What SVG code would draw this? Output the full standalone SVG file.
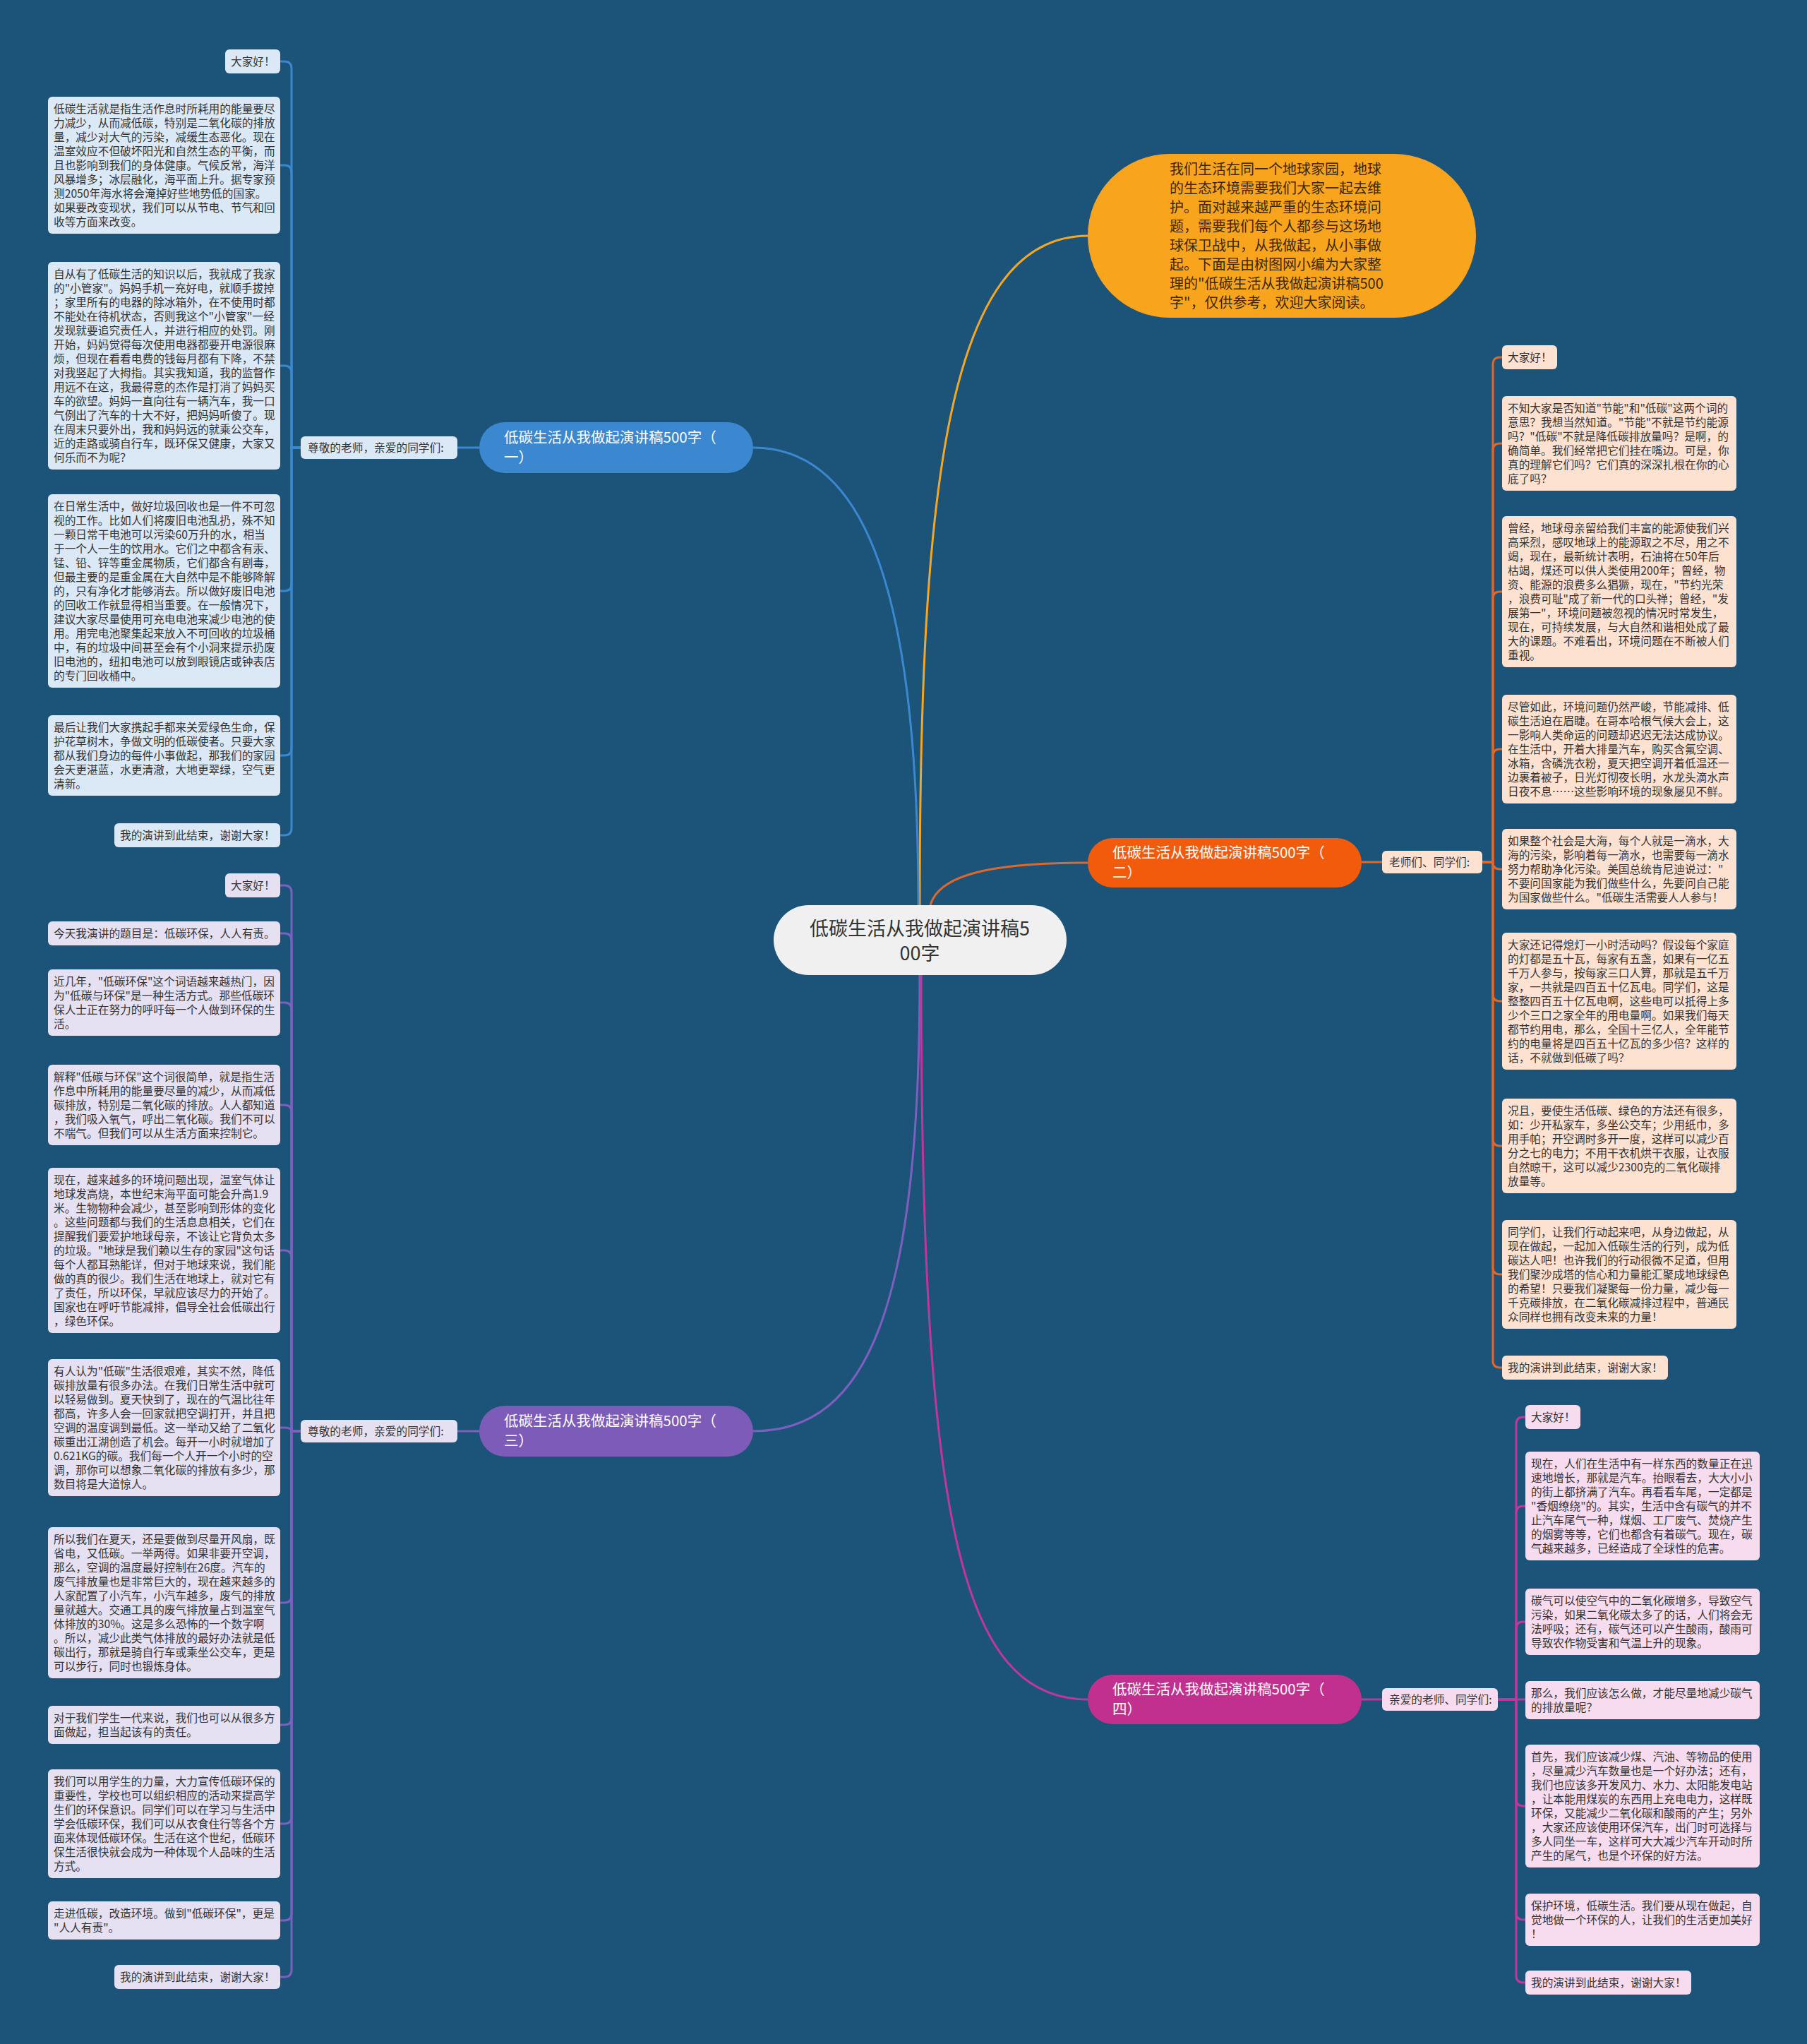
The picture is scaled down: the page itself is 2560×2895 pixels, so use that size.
<svg xmlns="http://www.w3.org/2000/svg" width="2560" height="2895" viewBox="0 0 2560 2895">
<style>
.t{font-family:"Noto Sans CJK SC","Liberation Sans",sans-serif;font-size:15.7px;fill:#333}
.bt{font-family:"Noto Sans CJK SC","Liberation Sans",sans-serif;font-size:20.5px;fill:#fff}
.lb{fill:#dbe8f5}.lo{fill:#fde2d2}.lp{fill:#e5e0f2}.lm{fill:#f6dcee}
.cb{fill:none;stroke:#3b87d0;stroke-width:3}
.co{fill:none;stroke:#e0672a;stroke-width:3}
.cp{fill:none;stroke:#7e5fbf;stroke-width:3}
.cm{fill:none;stroke:#c0369a;stroke-width:3}
.cy{fill:none;stroke:#f5a623;stroke-width:3}
</style>
<rect width="2560" height="2895" fill="#1c5479"/>
<g id="connectors">
<path class="cy" d="M1303 1282 C1303 700 1340 334 1541 334"/>
<path class="cb" d="M1301 1282 C1301 850 1230 634 1067 634"/>
<path class="co" d="M1318 1282 C1330 1240 1400 1222 1541 1222"/>
<path class="cp" d="M1303 1381 C1303 1850 1230 2027 1067 2027"/>
<path class="cm" d="M1305 1381 C1305 2150 1360 2407 1541 2407"/>
<path class="cb" d="M679 634 H648"/>
<path class="co" d="M1929 1221 H1958"/>
<path class="cp" d="M679 2027 H648"/>
<path class="cm" d="M1929 2407 H1958"/>
<path class="cb" d="M426 634H413V97Q413 87 403 87H397"/>
<path class="cb" d="M426 634H413V244Q413 234 403 234H397"/>
<path class="cb" d="M426 634H413V528Q413 518 403 518H397"/>
<path class="cb" d="M426 634H413V827Q413 837 403 837H397"/>
<path class="cb" d="M426 634H413V1060Q413 1070 403 1070H397"/>
<path class="cb" d="M426 634H413V1173Q413 1183 403 1183H397"/>
<path class="cp" d="M426 2027H413V1264Q413 1254 403 1254H397"/>
<path class="cp" d="M426 2027H413V1332Q413 1322 403 1322H397"/>
<path class="cp" d="M426 2027H413V1430Q413 1420 403 1420H397"/>
<path class="cp" d="M426 2027H413V1575Q413 1565 403 1565H397"/>
<path class="cp" d="M426 2027H413V1781Q413 1771 403 1771H397"/>
<path class="cp" d="M426 2027H413Q413 2022 403 2022H397"/>
<path class="cp" d="M426 2027H413V2260Q413 2270 403 2270H397"/>
<path class="cp" d="M426 2027H413V2433Q413 2443 403 2443H397"/>
<path class="cp" d="M426 2027H413V2573Q413 2583 403 2583H397"/>
<path class="cp" d="M426 2027H413V2710Q413 2720 403 2720H397"/>
<path class="cp" d="M426 2027H413V2790Q413 2800 403 2800H397"/>
<path class="co" d="M2100 1221H2115V516Q2115 506 2125 506H2128"/>
<path class="co" d="M2100 1221H2115V638Q2115 628 2125 628H2128"/>
<path class="co" d="M2100 1221H2115V848Q2115 838 2125 838H2128"/>
<path class="co" d="M2100 1221H2115V1071Q2115 1061 2125 1061H2128"/>
<path class="co" d="M2100 1221H2115V1221Q2115 1231 2125 1231H2128"/>
<path class="co" d="M2100 1221H2115V1408Q2115 1418 2125 1418H2128"/>
<path class="co" d="M2100 1221H2115V1613Q2115 1623 2125 1623H2128"/>
<path class="co" d="M2100 1221H2115V1795Q2115 1805 2125 1805H2128"/>
<path class="co" d="M2100 1221H2115V1927Q2115 1937 2125 1937H2128"/>
<path class="cm" d="M2122 2407H2148V2017Q2148 2007 2158 2007H2161"/>
<path class="cm" d="M2122 2407H2148V2143Q2148 2133 2158 2133H2161"/>
<path class="cm" d="M2122 2407H2148V2307Q2148 2297 2158 2297H2161"/>
<path class="cm" d="M2122 2407H2161"/>
<path class="cm" d="M2122 2407H2148V2548Q2148 2558 2158 2558H2161"/>
<path class="cm" d="M2122 2407H2148V2709Q2148 2719 2158 2719H2161"/>
<path class="cm" d="M2122 2407H2148V2798Q2148 2808 2158 2808H2161"/>
</g>
<g id="root">
<rect x="1096" y="1282" width="415" height="99" rx="49.5" fill="#f0f0f0"/>
<text style="font-family:'Noto Sans CJK SC','Liberation Sans',sans-serif;font-size:27px;fill:#333" text-anchor="middle"><tspan x="1303" y="1325">低碳生活从我做起演讲稿5</tspan><tspan x="1303" y="1360">00字</tspan></text>
</g>
<g id="intro">
<rect x="1541" y="218" width="550" height="232" rx="116" fill="#f8a51d"/>
<text style="font-family:'Noto Sans CJK SC','Liberation Sans',sans-serif;font-size:20px;fill:#3a2800"><tspan x="1657" y="247">我们生活在同一个地球家园，地球</tspan><tspan x="1657" dy="27">的生态环境需要我们大家一起去维</tspan><tspan x="1657" dy="27">护。面对越来越严重的生态环境问</tspan><tspan x="1657" dy="27">题，需要我们每个人都参与这场地</tspan><tspan x="1657" dy="27">球保卫战中，从我做起，从小事做</tspan><tspan x="1657" dy="27">起。下面是由树图网小编为大家整</tspan><tspan x="1657" dy="27">理的"低碳生活从我做起演讲稿500</tspan><tspan x="1657" dy="27">字"，仅供参考，欢迎大家阅读。</tspan></text>
</g>
<g id="b1">
<rect x="679" y="598" width="388" height="72" rx="36" fill="#3b87d0"/>
<text class="bt"><tspan x="714" y="627">低碳生活从我做起演讲稿500字（</tspan><tspan x="714" dy="28">一）</tspan></text>
</g>
<g id="b1label">
<rect x="426" y="618" width="222" height="32" rx="6" class="lb"/>
<text class="t" x="436" y="640">尊敬的老师，亲爱的同学们:</text>
</g>
<g id="b2">
<rect x="1541" y="1187" width="388" height="70" rx="35" fill="#f25a0c"/>
<text class="bt"><tspan x="1576" y="1215">低碳生活从我做起演讲稿500字（</tspan><tspan x="1576" dy="28">二）</tspan></text>
</g>
<g id="b2label">
<rect x="1958" y="1205" width="142" height="32" rx="6" class="lo"/>
<text class="t" x="1968" y="1227">老师们、同学们:</text>
</g>
<g id="b3">
<rect x="679" y="1991" width="388" height="72" rx="36" fill="#7d5bb8"/>
<text class="bt"><tspan x="714" y="2020">低碳生活从我做起演讲稿500字（</tspan><tspan x="714" dy="28">三）</tspan></text>
</g>
<g id="b3label">
<rect x="426" y="2011" width="222" height="32" rx="6" class="lp"/>
<text class="t" x="436" y="2033">尊敬的老师，亲爱的同学们:</text>
</g>
<g id="b4">
<rect x="1541" y="2372" width="388" height="70" rx="35" fill="#c1308e"/>
<text class="bt"><tspan x="1576" y="2400">低碳生活从我做起演讲稿500字（</tspan><tspan x="1576" dy="28">四）</tspan></text>
</g>
<g id="b4label">
<rect x="1958" y="2391" width="164" height="32" rx="6" class="lm"/>
<text class="t" x="1968" y="2413">亲爱的老师、同学们:</text>
</g>
<g id="a1"><rect x="319" y="70" width="78" height="34" rx="6" class="lb"/><text class="t" x="327" y="93">大家好！</text></g>
<g id="a2"><rect x="68" y="137" width="329" height="194" rx="6" class="lb"/><text class="t"><tspan x="76" y="160">低碳生活就是指生活作息时所耗用的能量要尽</tspan><tspan x="76" dy="20">力减少，从而减低碳，特别是二氧化碳的排放</tspan><tspan x="76" dy="20">量，减少对大气的污染，减缓生态恶化。现在</tspan><tspan x="76" dy="20">温室效应不但破坏阳光和自然生态的平衡，而</tspan><tspan x="76" dy="20">且也影响到我们的身体健康。气候反常，海洋</tspan><tspan x="76" dy="20">风暴增多；冰层融化，海平面上升。据专家预</tspan><tspan x="76" dy="20">测2050年海水将会淹掉好些地势低的国家。</tspan><tspan x="76" dy="20">如果要改变现状，我们可以从节电、节气和回</tspan><tspan x="76" dy="20">收等方面来改变。</tspan></text></g>
<g id="a3"><rect x="68" y="371" width="329" height="294" rx="6" class="lb"/><text class="t"><tspan x="76" y="394">自从有了低碳生活的知识以后，我就成了我家</tspan><tspan x="76" dy="20">的"小管家"。妈妈手机一充好电，就顺手拔掉</tspan><tspan x="76" dy="20">；家里所有的电器的除冰箱外，在不使用时都</tspan><tspan x="76" dy="20">不能处在待机状态，否则我这个"小管家"一经</tspan><tspan x="76" dy="20">发现就要追究责任人，并进行相应的处罚。刚</tspan><tspan x="76" dy="20">开始，妈妈觉得每次使用电器都要开电源很麻</tspan><tspan x="76" dy="20">烦，但现在看看电费的钱每月都有下降，不禁</tspan><tspan x="76" dy="20">对我竖起了大拇指。其实我知道，我的监督作</tspan><tspan x="76" dy="20">用远不在这，我最得意的杰作是打消了妈妈买</tspan><tspan x="76" dy="20">车的欲望。妈妈一直向往有一辆汽车，我一口</tspan><tspan x="76" dy="20">气例出了汽车的十大不好，把妈妈听傻了。现</tspan><tspan x="76" dy="20">在周末只要外出，我和妈妈远的就乘公交车，</tspan><tspan x="76" dy="20">近的走路或骑自行车，既环保又健康，大家又</tspan><tspan x="76" dy="20">何乐而不为呢？</tspan></text></g>
<g id="a4"><rect x="68" y="700" width="329" height="274" rx="6" class="lb"/><text class="t"><tspan x="76" y="723">在日常生活中，做好垃圾回收也是一件不可忽</tspan><tspan x="76" dy="20">视的工作。比如人们将废旧电池乱扔，殊不知</tspan><tspan x="76" dy="20">一颗日常干电池可以污染60万升的水，相当</tspan><tspan x="76" dy="20">于一个人一生的饮用水。它们之中都含有汞、</tspan><tspan x="76" dy="20">锰、铅、锌等重金属物质，它们都含有剧毒，</tspan><tspan x="76" dy="20">但最主要的是重金属在大自然中是不能够降解</tspan><tspan x="76" dy="20">的，只有净化才能够消去。所以做好废旧电池</tspan><tspan x="76" dy="20">的回收工作就显得相当重要。在一般情况下，</tspan><tspan x="76" dy="20">建议大家尽量使用可充电电池来减少电池的使</tspan><tspan x="76" dy="20">用。用完电池聚集起来放入不可回收的垃圾桶</tspan><tspan x="76" dy="20">中，有的垃圾中间甚至会有个小洞来提示扔废</tspan><tspan x="76" dy="20">旧电池的，纽扣电池可以放到眼镜店或钟表店</tspan><tspan x="76" dy="20">的专门回收桶中。</tspan></text></g>
<g id="a5"><rect x="68" y="1013" width="329" height="114" rx="6" class="lb"/><text class="t"><tspan x="76" y="1036">最后让我们大家携起手都来关爱绿色生命，保</tspan><tspan x="76" dy="20">护花草树木，争做文明的低碳使者。只要大家</tspan><tspan x="76" dy="20">都从我们身边的每件小事做起，那我们的家园</tspan><tspan x="76" dy="20">会天更湛蓝，水更清澈，大地更翠绿，空气更</tspan><tspan x="76" dy="20">清新。</tspan></text></g>
<g id="a6"><rect x="162" y="1166" width="235" height="34" rx="6" class="lb"/><text class="t" x="170" y="1189">我的演讲到此结束，谢谢大家！</text></g>
<g id="c1"><rect x="319" y="1237" width="78" height="34" rx="6" class="lp"/><text class="t" x="327" y="1260">大家好！</text></g>
<g id="c2"><rect x="68" y="1305" width="329" height="34" rx="6" class="lp"/><text class="t" x="76" y="1328">今天我演讲的题目是：低碳环保，人人有责。</text></g>
<g id="c3"><rect x="68" y="1373" width="329" height="94" rx="6" class="lp"/><text class="t"><tspan x="76" y="1396">近几年，"低碳环保"这个词语越来越热门，因</tspan><tspan x="76" dy="20">为"低碳与环保"是一种生活方式。那些低碳环</tspan><tspan x="76" dy="20">保人士正在努力的呼吁每一个人做到环保的生</tspan><tspan x="76" dy="20">活。</tspan></text></g>
<g id="c4"><rect x="68" y="1508" width="329" height="114" rx="6" class="lp"/><text class="t"><tspan x="76" y="1531">解释"低碳与环保"这个词很简单，就是指生活</tspan><tspan x="76" dy="20">作息中所耗用的能量要尽量的减少，从而减低</tspan><tspan x="76" dy="20">碳排放，特别是二氧化碳的排放。人人都知道</tspan><tspan x="76" dy="20">，我们吸入氧气，呼出二氧化碳。我们不可以</tspan><tspan x="76" dy="20">不喘气。但我们可以从生活方面来控制它。</tspan></text></g>
<g id="c5"><rect x="68" y="1654" width="329" height="234" rx="6" class="lp"/><text class="t"><tspan x="76" y="1677">现在，越来越多的环境问题出现，温室气体让</tspan><tspan x="76" dy="20">地球发高烧，本世纪末海平面可能会升高1.9</tspan><tspan x="76" dy="20">米。生物物种会减少，甚至影响到形体的变化</tspan><tspan x="76" dy="20">。这些问题都与我们的生活息息相关，它们在</tspan><tspan x="76" dy="20">提醒我们要爱护地球母亲，不该让它背负太多</tspan><tspan x="76" dy="20">的垃圾。"地球是我们赖以生存的家园"这句话</tspan><tspan x="76" dy="20">每个人都耳熟能详，但对于地球来说，我们能</tspan><tspan x="76" dy="20">做的真的很少。我们生活在地球上，就对它有</tspan><tspan x="76" dy="20">了责任，所以环保，早就应该尽力的开始了。</tspan><tspan x="76" dy="20">国家也在呼吁节能减排，倡导全社会低碳出行</tspan><tspan x="76" dy="20">，绿色环保。</tspan></text></g>
<g id="c6"><rect x="68" y="1925" width="329" height="194" rx="6" class="lp"/><text class="t"><tspan x="76" y="1948">有人认为"低碳"生活很艰难，其实不然，降低</tspan><tspan x="76" dy="20">碳排放量有很多办法。在我们日常生活中就可</tspan><tspan x="76" dy="20">以轻易做到。夏天快到了，现在的气温比往年</tspan><tspan x="76" dy="20">都高，许多人会一回家就把空调打开，并且把</tspan><tspan x="76" dy="20">空调的温度调到最低。这一举动又给了二氧化</tspan><tspan x="76" dy="20">碳重出江湖创造了机会。每开一小时就增加了</tspan><tspan x="76" dy="20">0.621KG的碳。我们每一个人开一个小时的空</tspan><tspan x="76" dy="20">调，那你可以想象二氧化碳的排放有多少，那</tspan><tspan x="76" dy="20">数目将是大道惊人。</tspan></text></g>
<g id="c7"><rect x="68" y="2163" width="329" height="214" rx="6" class="lp"/><text class="t"><tspan x="76" y="2186">所以我们在夏天，还是要做到尽量开风扇，既</tspan><tspan x="76" dy="20">省电，又低碳。一举两得。如果非要开空调，</tspan><tspan x="76" dy="20">那么，空调的温度最好控制在26度。汽车的</tspan><tspan x="76" dy="20">废气排放量也是非常巨大的，现在越来越多的</tspan><tspan x="76" dy="20">人家配置了小汽车，小汽车越多，废气的排放</tspan><tspan x="76" dy="20">量就越大。交通工具的废气排放量占到温室气</tspan><tspan x="76" dy="20">体排放的30%。这是多么恐怖的一个数字啊</tspan><tspan x="76" dy="20">。所以，减少此类气体排放的最好办法就是低</tspan><tspan x="76" dy="20">碳出行，那就是骑自行车或乘坐公交车，更是</tspan><tspan x="76" dy="20">可以步行，同时也锻炼身体。</tspan></text></g>
<g id="c8"><rect x="68" y="2416" width="329" height="54" rx="6" class="lp"/><text class="t"><tspan x="76" y="2439">对于我们学生一代来说，我们也可以从很多方</tspan><tspan x="76" dy="20">面做起，担当起该有的责任。</tspan></text></g>
<g id="c9"><rect x="68" y="2506" width="329" height="154" rx="6" class="lp"/><text class="t"><tspan x="76" y="2529">我们可以用学生的力量，大力宣传低碳环保的</tspan><tspan x="76" dy="20">重要性，学校也可以组织相应的活动来提高学</tspan><tspan x="76" dy="20">生们的环保意识。同学们可以在学习与生活中</tspan><tspan x="76" dy="20">学会低碳环保，我们可以从衣食住行等各个方</tspan><tspan x="76" dy="20">面来体现低碳环保。生活在这个世纪，低碳环</tspan><tspan x="76" dy="20">保生活很快就会成为一种体现个人品味的生活</tspan><tspan x="76" dy="20">方式。</tspan></text></g>
<g id="c10"><rect x="68" y="2693" width="329" height="54" rx="6" class="lp"/><text class="t"><tspan x="76" y="2716">走进低碳，改造环境。做到"低碳环保"，更是</tspan><tspan x="76" dy="20">"人人有责"。</tspan></text></g>
<g id="c11"><rect x="162" y="2783" width="235" height="34" rx="6" class="lp"/><text class="t" x="170" y="2806">我的演讲到此结束，谢谢大家！</text></g>
<g id="d1"><rect x="2128" y="489" width="78" height="34" rx="6" class="lo"/><text class="t" x="2136" y="512">大家好！</text></g>
<g id="d2"><rect x="2128" y="561" width="332" height="134" rx="6" class="lo"/><text class="t"><tspan x="2136" y="584">不知大家是否知道"节能"和"低碳"这两个词的</tspan><tspan x="2136" dy="20">意思？我想当然知道。"节能"不就是节约能源</tspan><tspan x="2136" dy="20">吗？"低碳"不就是降低碳排放量吗？是啊，的</tspan><tspan x="2136" dy="20">确简单。我们经常把它们挂在嘴边。可是，你</tspan><tspan x="2136" dy="20">真的理解它们吗？它们真的深深扎根在你的心</tspan><tspan x="2136" dy="20">底了吗？</tspan></text></g>
<g id="d3"><rect x="2128" y="731" width="332" height="214" rx="6" class="lo"/><text class="t"><tspan x="2136" y="754">曾经，地球母亲留给我们丰富的能源使我们兴</tspan><tspan x="2136" dy="20">高采烈，感叹地球上的能源取之不尽，用之不</tspan><tspan x="2136" dy="20">竭，现在，最新统计表明，石油将在50年后</tspan><tspan x="2136" dy="20">枯竭，煤还可以供人类使用200年；曾经，物</tspan><tspan x="2136" dy="20">资、能源的浪费多么猖獗，现在，"节约光荣</tspan><tspan x="2136" dy="20">，浪费可耻"成了新一代的口头禅；曾经，"发</tspan><tspan x="2136" dy="20">展第一"，环境问题被忽视的情况时常发生，</tspan><tspan x="2136" dy="20">现在，可持续发展，与大自然和谐相处成了最</tspan><tspan x="2136" dy="20">大的课题。不难看出，环境问题在不断被人们</tspan><tspan x="2136" dy="20">重视。</tspan></text></g>
<g id="d4"><rect x="2128" y="984" width="332" height="154" rx="6" class="lo"/><text class="t"><tspan x="2136" y="1007">尽管如此，环境问题仍然严峻，节能减排、低</tspan><tspan x="2136" dy="20">碳生活迫在眉睫。在哥本哈根气候大会上，这</tspan><tspan x="2136" dy="20">一影响人类命运的问题却迟迟无法达成协议。</tspan><tspan x="2136" dy="20">在生活中，开着大排量汽车，购买含氟空调、</tspan><tspan x="2136" dy="20">冰箱，含磷洗衣粉，夏天把空调开着低温还一</tspan><tspan x="2136" dy="20">边裹着被子，日光灯彻夜长明，水龙头滴水声</tspan><tspan x="2136" dy="20">日夜不息……这些影响环境的现象屡见不鲜。</tspan></text></g>
<g id="d5"><rect x="2128" y="1174" width="332" height="114" rx="6" class="lo"/><text class="t"><tspan x="2136" y="1197">如果整个社会是大海，每个人就是一滴水，大</tspan><tspan x="2136" dy="20">海的污染，影响着每一滴水，也需要每一滴水</tspan><tspan x="2136" dy="20">努力帮助净化污染。美国总统肯尼迪说过："</tspan><tspan x="2136" dy="20">不要问国家能为我们做些什么，先要问自己能</tspan><tspan x="2136" dy="20">为国家做些什么。"低碳生活需要人人参与！</tspan></text></g>
<g id="d6"><rect x="2128" y="1321" width="332" height="194" rx="6" class="lo"/><text class="t"><tspan x="2136" y="1344">大家还记得熄灯一小时活动吗？假设每个家庭</tspan><tspan x="2136" dy="20">的灯都是五十瓦，每家有五盏，如果有一亿五</tspan><tspan x="2136" dy="20">千万人参与，按每家三口人算，那就是五千万</tspan><tspan x="2136" dy="20">家，一共就是四百五十亿瓦电。同学们，这是</tspan><tspan x="2136" dy="20">整整四百五十亿瓦电啊，这些电可以抵得上多</tspan><tspan x="2136" dy="20">少个三口之家全年的用电量啊。如果我们每天</tspan><tspan x="2136" dy="20">都节约用电，那么，全国十三亿人，全年能节</tspan><tspan x="2136" dy="20">约的电量将是四百五十亿瓦的多少倍？这样的</tspan><tspan x="2136" dy="20">话，不就做到低碳了吗？</tspan></text></g>
<g id="d7"><rect x="2128" y="1556" width="332" height="134" rx="6" class="lo"/><text class="t"><tspan x="2136" y="1579">况且，要使生活低碳、绿色的方法还有很多，</tspan><tspan x="2136" dy="20">如：少开私家车，多坐公交车；少用纸巾，多</tspan><tspan x="2136" dy="20">用手帕；开空调时多开一度，这样可以减少百</tspan><tspan x="2136" dy="20">分之七的电力；不用干衣机烘干衣服，让衣服</tspan><tspan x="2136" dy="20">自然晾干，这可以减少2300克的二氧化碳排</tspan><tspan x="2136" dy="20">放量等。</tspan></text></g>
<g id="d8"><rect x="2128" y="1728" width="332" height="154" rx="6" class="lo"/><text class="t"><tspan x="2136" y="1751">同学们，让我们行动起来吧，从身边做起，从</tspan><tspan x="2136" dy="20">现在做起，一起加入低碳生活的行列，成为低</tspan><tspan x="2136" dy="20">碳达人吧！也许我们的行动很微不足道，但用</tspan><tspan x="2136" dy="20">我们聚沙成塔的信心和力量能汇聚成地球绿色</tspan><tspan x="2136" dy="20">的希望！只要我们凝聚每一份力量，减少每一</tspan><tspan x="2136" dy="20">千克碳排放，在二氧化碳减排过程中，普通民</tspan><tspan x="2136" dy="20">众同样也拥有改变未来的力量！</tspan></text></g>
<g id="d9"><rect x="2128" y="1920" width="235" height="34" rx="6" class="lo"/><text class="t" x="2136" y="1943">我的演讲到此结束，谢谢大家！</text></g>
<g id="e1"><rect x="2161" y="1990" width="78" height="34" rx="6" class="lm"/><text class="t" x="2169" y="2013">大家好！</text></g>
<g id="e2"><rect x="2161" y="2056" width="332" height="154" rx="6" class="lm"/><text class="t"><tspan x="2169" y="2079">现在，人们在生活中有一样东西的数量正在迅</tspan><tspan x="2169" dy="20">速地增长，那就是汽车。抬眼看去，大大小小</tspan><tspan x="2169" dy="20">的街上都挤满了汽车。再看看车尾，一定都是</tspan><tspan x="2169" dy="20">"香烟缭绕"的。其实，生活中含有碳气的并不</tspan><tspan x="2169" dy="20">止汽车尾气一种，煤烟、工厂废气、焚烧产生</tspan><tspan x="2169" dy="20">的烟雾等等，它们也都含有着碳气。现在，碳</tspan><tspan x="2169" dy="20">气越来越多，已经造成了全球性的危害。</tspan></text></g>
<g id="e3"><rect x="2161" y="2250" width="332" height="94" rx="6" class="lm"/><text class="t"><tspan x="2169" y="2273">碳气可以使空气中的二氧化碳增多，导致空气</tspan><tspan x="2169" dy="20">污染，如果二氧化碳太多了的话，人们将会无</tspan><tspan x="2169" dy="20">法呼吸；还有，碳气还可以产生酸雨，酸雨可</tspan><tspan x="2169" dy="20">导致农作物受害和气温上升的现象。</tspan></text></g>
<g id="e4"><rect x="2161" y="2381" width="332" height="54" rx="6" class="lm"/><text class="t"><tspan x="2169" y="2404">那么，我们应该怎么做，才能尽量地减少碳气</tspan><tspan x="2169" dy="20">的排放量呢？</tspan></text></g>
<g id="e5"><rect x="2161" y="2471" width="332" height="174" rx="6" class="lm"/><text class="t"><tspan x="2169" y="2494">首先，我们应该减少煤、汽油、等物品的使用</tspan><tspan x="2169" dy="20">，尽量减少汽车数量也是一个好办法；还有，</tspan><tspan x="2169" dy="20">我们也应该多开发风力、水力、太阳能发电站</tspan><tspan x="2169" dy="20">，让本能用煤炭的东西用上充电电力，这样既</tspan><tspan x="2169" dy="20">环保，又能减少二氧化碳和酸雨的产生；另外</tspan><tspan x="2169" dy="20">，大家还应该使用环保汽车，出门时可选择与</tspan><tspan x="2169" dy="20">多人同坐一车，这样可大大减少汽车开动时所</tspan><tspan x="2169" dy="20">产生的尾气，也是个环保的好方法。</tspan></text></g>
<g id="e6"><rect x="2161" y="2682" width="332" height="74" rx="6" class="lm"/><text class="t"><tspan x="2169" y="2705">保护环境，低碳生活。我们要从现在做起，自</tspan><tspan x="2169" dy="20">觉地做一个环保的人，让我们的生活更加美好</tspan><tspan x="2169" dy="20">！</tspan></text></g>
<g id="e7"><rect x="2161" y="2791" width="235" height="34" rx="6" class="lm"/><text class="t" x="2169" y="2814">我的演讲到此结束，谢谢大家！</text></g>
</svg>
